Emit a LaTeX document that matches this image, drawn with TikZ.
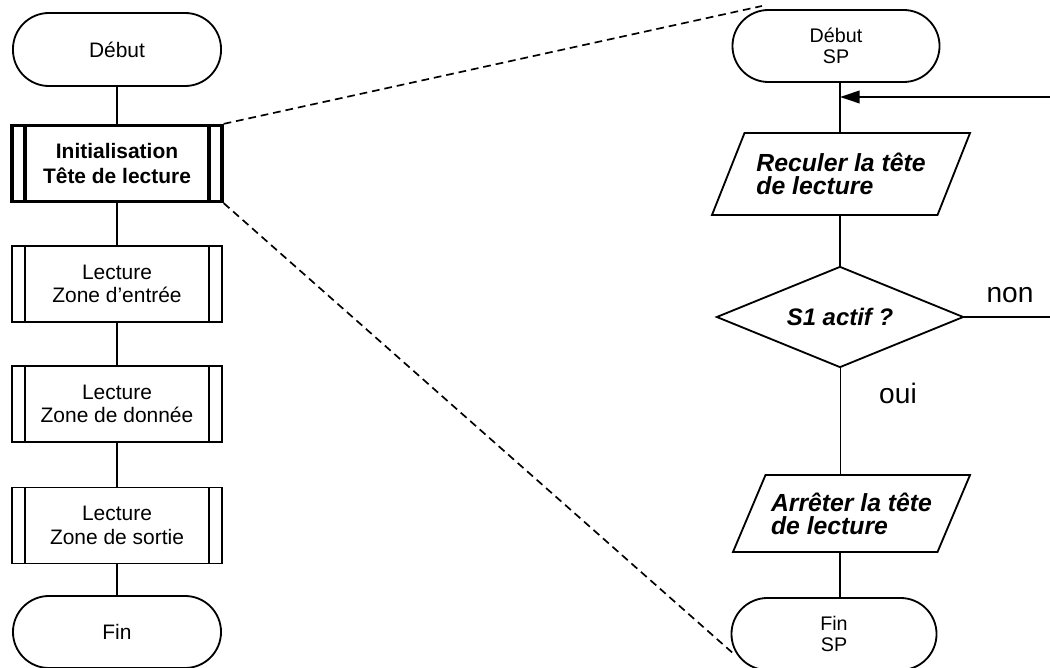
\documentclass[tikz,border=0pt]{standalone}
\usepackage{fontspec}
\setmainfont{Liberation Sans}
\setsansfont{Liberation Sans}
\usetikzlibrary{shapes.geometric,arrows.meta}

\begin{document}
\begin{tikzpicture}[font=\sffamily,x=0.025cm,y=-0.025cm]
  % Main program on the left, the sub-program SP zoomed out on the right.
  \useasboundingbox (0,0) rectangle (1050,668);
  \fill[white] (0,0) rectangle (1050,668);

  \tikzset{flow/.style={draw,line width=1.3pt},
            terminal/.style={draw,line width=1.3pt,rectangle,rounded corners=0.9cm,
              minimum width=5.2cm,minimum height=1.825cm,inner sep=0pt,align=center,
              font=\fontsize{14.9}{17}\selectfont},
            subbox/.style={draw,rectangle,minimum width=5.25cm,minimum height=1.9cm,
              inner sep=0pt,align=center,font=\fontsize{14.9}{16.6}\selectfont,
              path picture={\draw[line width=#1]
                ([xshift=0.325cm]path picture bounding box.north west) --
                ([xshift=0.325cm]path picture bounding box.south west)
                ([xshift=-0.325cm]path picture bounding box.north east) --
                ([xshift=-0.325cm]path picture bounding box.south east);}},
            subbox/.default=1.3pt,
            inout/.style={draw,line width=1.3pt,trapezium,trapezium left angle=52,
              trapezium right angle=128,trapezium stretches body,inner sep=0pt,align=left,
              font=\fontsize{17.6}{16.3}\selectfont\bfseries\itshape},
            test/.style={draw,line width=1.3pt,diamond,aspect=2.45,inner sep=0pt,
              minimum width=6.175cm,minimum height=2.525cm,
              font=\fontsize{17}{20}\selectfont\bfseries\itshape},
            answer/.style={font=\fontsize{20}{24}\selectfont,inner sep=0pt},
            zoomline/.style={line width=1.2pt,dash pattern=on 5.5pt off 3.5pt}}

  % main program
  \node[terminal] (debut) at (117,49.5) {Début};
  \node[subbox=2.3pt,line width=2.3pt,font=\fontsize{14.9}{17.2}\selectfont\bfseries]
    (init) at (117,163.5) {Initialisation\\Tête de lecture};
  \node[subbox,line width=1.3pt] (entree) at (117,284) {Lecture\\Zone d’entrée};
  \node[subbox,line width=1.3pt] (donnee) at (117,404) {Lecture\\Zone de donnée};
  \node[subbox,line width=1.3pt] (sortie) at (117,525.5) {Lecture\\Zone de sortie};
  \node[terminal,minimum height=1.8cm] (fin) at (117,632) {Fin};

  \draw[flow] (debut) -- (init);
  \draw[flow] (init) -- (entree);
  \draw[flow] (entree) -- (donnee);
  \draw[flow] (donnee) -- (sortie);
  \draw[flow] (sortie) -- (fin);

  % sub-program SP
  \node[terminal,minimum width=5.175cm,minimum height=1.8cm,
    font=\fontsize{14}{15}\selectfont] (debutsp) at (836,46) {Début\\SP};
  \node[inout,minimum width=6.45cm,minimum height=2.05cm] (recul) at (841,174)
    {Reculer la tête\\de lecture};
  \node[test] (actif) at (840,317) {S1 actif ?};
  \node[inout,minimum width=5.925cm,minimum height=1.925cm] (arret) at (851.5,513.5)
    {Arrêter la tête\\de lecture};
  \node[terminal,minimum width=5.125cm,minimum height=1.8cm,
    font=\fontsize{14}{15}\selectfont] (finsp) at (834,634) {Fin\\SP};

  \coordinate (boucle) at (840,97);
  \coordinate (retour) at (1050,97);
  \coordinate (sortienon) at (1050,317);

  \draw[flow] (actif.north |- debutsp.south) -- (actif.north |- recul.north);
  \draw[flow] (actif.north |- recul.south) -- (actif.north);
  \draw[line width=0.7pt] (actif.south) -- (actif.south |- arret.north);
  \draw[flow] (actif.south |- arret.south) -- (actif.south |- finsp.north);
  \draw[flow] (actif.east) -- (sortienon);
  \draw[flow,-{Triangle[length=14pt,width=9pt]}] (retour) -- (boucle);

  \node[answer] (non) at (1010,295) {non};
  \node[answer] (oui) at (898,393) {oui};

  % zoom from the main program to SP
  \coordinate (haut) at (762,6);
  \coordinate (bas) at (735,655);
  \draw[zoomline] (init.north east) -- (haut);
  \draw[zoomline] (init.south east) -- (bas);
\end{tikzpicture}
\end{document}
